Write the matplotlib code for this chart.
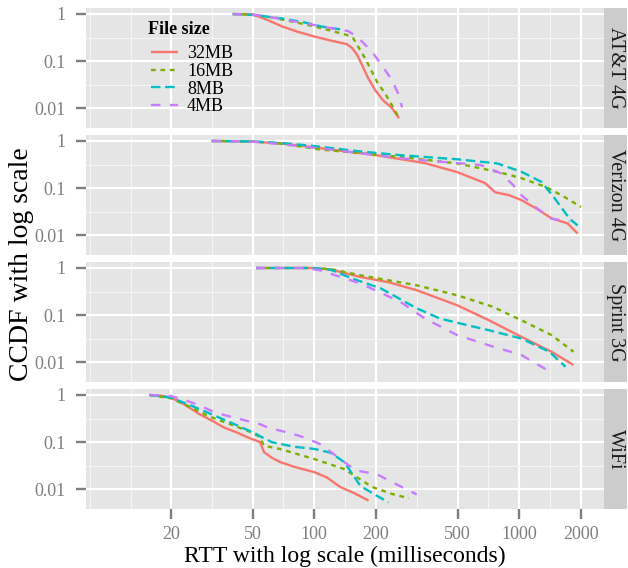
import matplotlib
matplotlib.use("Agg")
import matplotlib.pyplot as plt
from matplotlib.ticker import FixedLocator, NullFormatter

plt.rcParams["font.family"] = ["Liberation Serif", "DejaVu Serif"]

# ---- data: RTT (ms) vs CCDF, one curve per file size ----
carriers = ["AT&T 4G", "Verizon 4G", "Sprint 3G", "WiFi"]
sizes = ["32MB", "16MB", "8MB", "4MB"]
colors = ["#F8766D", "#7CAE00", "#00BFC4", "#C77CFF"]

att_rtt_32 = [40, 50, 59, 70, 83, 101, 122, 144, 153, 162, 171, 183, 198, 216, 239, 259]
att_ccdf_32 = [1, 0.985, 0.75, 0.54, 0.42, 0.33, 0.27, 0.23, 0.19, 0.135, 0.083, 0.044, 0.0245, 0.015, 0.0102, 0.0062]
att_rtt_16 = [40, 50, 59, 78, 101, 126, 144, 155, 164, 177, 191, 204, 221, 239, 259]
att_ccdf_16 = [1, 0.96, 0.88, 0.69, 0.54, 0.42, 0.36, 0.305, 0.2, 0.115, 0.06, 0.034, 0.021, 0.0118, 0.0062]
att_rtt_8 = [40, 51, 70, 90, 109, 131, 137]
att_ccdf_8 = [1, 0.95, 0.8, 0.66, 0.54, 0.48, 0.46]
att_rtt_4 = [40, 53, 78, 104, 126, 146, 155, 171, 191, 213, 239, 256, 268]
att_ccdf_4 = [1, 0.95, 0.71, 0.565, 0.48, 0.436, 0.37, 0.26, 0.16, 0.083, 0.04, 0.021, 0.0105]

vz_rtt_32 = [31.6, 50, 70, 98, 120, 168, 201, 346, 497, 681, 762, 893, 1024, 1225, 1435, 1718, 1924]
vz_ccdf_32 = [1, 0.97, 0.88, 0.74, 0.66, 0.55, 0.5, 0.34, 0.22, 0.128, 0.082, 0.071, 0.056, 0.036, 0.023, 0.018, 0.011]
vz_rtt_16 = [31.6, 50, 70, 107, 168, 264, 497, 780, 1024, 1340, 1607, 2000]
vz_ccdf_16 = [1, 0.98, 0.87, 0.66, 0.55, 0.46, 0.335, 0.223, 0.163, 0.107, 0.071, 0.04]
vz_rtt_8 = [31.6, 50, 70, 98, 168, 264, 497, 780, 1024, 1282, 1468, 1758, 1924]
vz_ccdf_8 = [1, 0.98, 0.9, 0.79, 0.6, 0.5, 0.41, 0.335, 0.223, 0.136, 0.066, 0.0226, 0.0163]
vz_rtt_4 = [31.6, 50, 70, 107, 168, 264, 415, 649, 816, 934, 1024, 1225, 1435, 1758]
vz_ccdf_4 = [1, 0.97, 0.85, 0.7, 0.55, 0.43, 0.363, 0.31, 0.205, 0.116, 0.071, 0.037, 0.0226, 0.0195]

sp_rtt_32 = [52, 98, 120, 168, 230, 316, 497, 711, 1024, 1435, 1839]
sp_ccdf_32 = [1, 1, 0.93, 0.645, 0.5, 0.338, 0.163, 0.078, 0.0348, 0.0168, 0.0088]
sp_rtt_16 = [52, 98, 120, 168, 316, 497, 745, 1024, 1435, 1839]
sp_ccdf_16 = [1, 1, 0.95, 0.7, 0.43, 0.265, 0.15, 0.078, 0.038, 0.0168]
sp_rtt_8 = [52, 98, 120, 153, 211, 316, 410, 514, 711, 1024, 1400, 1680]
sp_ccdf_8 = [1, 1, 0.92, 0.6, 0.37, 0.14, 0.085, 0.067, 0.048, 0.032, 0.0168, 0.0081]
sp_rtt_4 = [52, 90, 107, 168, 264, 346, 497, 711, 1024, 1400]
sp_ccdf_4 = [1, 1, 0.89, 0.47, 0.19, 0.085, 0.038, 0.023, 0.0143, 0.0065]

wifi_rtt_32 = [15.7, 18, 20, 23, 27.6, 32, 36.2, 42, 47.5, 54.4, 56.9, 62, 68.1, 80, 100, 115, 134, 155, 184]
wifi_ccdf_32 = [1, 0.97, 0.88, 0.65, 0.39, 0.28, 0.205, 0.16, 0.126, 0.1, 0.0614, 0.047, 0.038, 0.03, 0.0232, 0.018, 0.0112, 0.0085, 0.0058]
wifi_rtt_16 = [15.7, 20, 25, 30.3, 40, 49.7, 54, 56.9, 68, 100, 140, 165, 192, 240, 289]
wifi_ccdf_16 = [1, 0.85, 0.55, 0.36, 0.23, 0.16, 0.13, 0.084, 0.072, 0.044, 0.027, 0.017, 0.0112, 0.008, 0.0065]
wifi_rtt_8 = [15.7, 20, 25, 30.3, 40, 52, 55, 62.2, 80, 100, 120, 140, 168, 200, 230]
wifi_ccdf_8 = [1, 0.88, 0.6, 0.42, 0.25, 0.15, 0.13, 0.1, 0.08, 0.072, 0.06, 0.038, 0.0118, 0.0075, 0.0053]
wifi_rtt_4 = [15.7, 20, 24, 27.6, 33, 42, 54.4, 60, 74.6, 90, 107, 125, 140, 160, 201, 250, 316]
wifi_ccdf_4 = [1, 0.95, 0.75, 0.6, 0.42, 0.32, 0.24, 0.2, 0.16, 0.125, 0.091, 0.055, 0.038, 0.025, 0.0212, 0.013, 0.0078]

curves = {
    "AT&T 4G": [(att_rtt_32, att_ccdf_32), (att_rtt_16, att_ccdf_16),
                (att_rtt_8, att_ccdf_8), (att_rtt_4, att_ccdf_4)],
    "Verizon 4G": [(vz_rtt_32, vz_ccdf_32), (vz_rtt_16, vz_ccdf_16),
                   (vz_rtt_8, vz_ccdf_8), (vz_rtt_4, vz_ccdf_4)],
    "Sprint 3G": [(sp_rtt_32, sp_ccdf_32), (sp_rtt_16, sp_ccdf_16),
                  (sp_rtt_8, sp_ccdf_8), (sp_rtt_4, sp_ccdf_4)],
    "WiFi": [(wifi_rtt_32, wifi_ccdf_32), (wifi_rtt_16, wifi_ccdf_16),
             (wifi_rtt_8, wifi_ccdf_8), (wifi_rtt_4, wifi_ccdf_4)],
}

x_breaks = [20, 50, 100, 200, 500, 1000, 2000]
x_minor = [8.05, 12.7, 31.6, 70.7, 141, 316, 707, 1414]
y_breaks = [1, 0.1, 0.01]
y_labels = ["1", "0.1", "0.01"]
y_minor = [0.316, 0.0316]

# ggplot-like line types (in units of line width)
linestyles = ["-", (0, (2, 2)), (0, (4, 2)), (0, (4, 4))]

W, H = 628, 568
fig = plt.figure(figsize=(W / 100, H / 100), dpi=100)
left, right, strip_w = 86, 604, 23
tops = [8, 135, 262, 389]
ph = 120
grey50 = "#7F7F7F"

for i, name in enumerate(carriers):
    bottom = 1 - (tops[i] + ph) / H
    ax = fig.add_axes([left / W, bottom, (right - left) / W, ph / H])
    ax.set_facecolor("#E5E5E5")
    ax.set_xscale("log")
    ax.set_yscale("log")
    ax.set_xlim(7.7, 2588)
    ax.set_ylim(10 ** -2.415, 10 ** 0.127)

    for (x, y), lab, col, ls in zip(curves[name], sizes, colors, linestyles):
        ax.plot(x, y, color=col, lw=1.7, linestyle=ls, label=lab,
                solid_capstyle="butt", dash_capstyle="butt")

    ax.xaxis.set_major_locator(FixedLocator(x_breaks))
    ax.xaxis.set_minor_locator(FixedLocator(x_minor))
    ax.xaxis.set_minor_formatter(NullFormatter())
    ax.set_xticklabels([str(b) for b in x_breaks])
    ax.yaxis.set_major_locator(FixedLocator(y_breaks))
    ax.yaxis.set_minor_locator(FixedLocator(y_minor))
    ax.yaxis.set_minor_formatter(NullFormatter())
    ax.set_yticklabels(y_labels)

    ax.set_axisbelow(True)
    ax.grid(which="major", color="white", lw=1.6)
    ax.grid(which="minor", color="#F4F4F4", lw=0.8)
    for s in ax.spines.values():
        s.set_visible(False)

    ax.tick_params(which="major", length=7.5, width=1.7, color=grey50,
                   labelcolor=grey50, labelsize=13)
    ax.tick_params(axis="y", which="major", pad=7)
    ax.tick_params(axis="x", which="major", pad=4.5)
    ax.tick_params(which="minor", length=0)
    if i < len(carriers) - 1:
        ax.tick_params(axis="x", which="major", length=0, labelbottom=False)

    if i == 0:
        ax.legend(loc="upper left",
                  bbox_to_anchor=((151 - left) / (right - left), (ph - 37.5) / ph),
                  frameon=False, fontsize=13, borderpad=0, borderaxespad=0,
                  handlelength=1.5, handletextpad=0.5, labelspacing=0.03)
        ax.text((148 - left) / (right - left), (ph - 21) / ph, "File size",
                transform=ax.transAxes, ha="left", va="center",
                fontsize=13, fontweight="bold", color="black")

    sax = fig.add_axes([right / W, bottom, strip_w / W, ph / H])
    sax.set_facecolor("#CCCCCC")
    sax.set_xticks([])
    sax.set_yticks([])
    for s in sax.spines.values():
        s.set_visible(False)
    sax.text(0.5, 0.5, name, rotation=-90, ha="center", va="center",
             fontsize=14.5, color="#1A1A1A", transform=sax.transAxes)

fig.text((left + right) / 2 / W, 1 - 556 / H, "RTT with log scale (milliseconds)",
         ha="center", va="center", fontsize=17, color="black")
fig.text(22 / W, 1 - 264 / H, "CCDF with log scale", rotation=90,
         ha="center", va="center", fontsize=20, color="black")

fig.savefig("out.png", dpi=100)
